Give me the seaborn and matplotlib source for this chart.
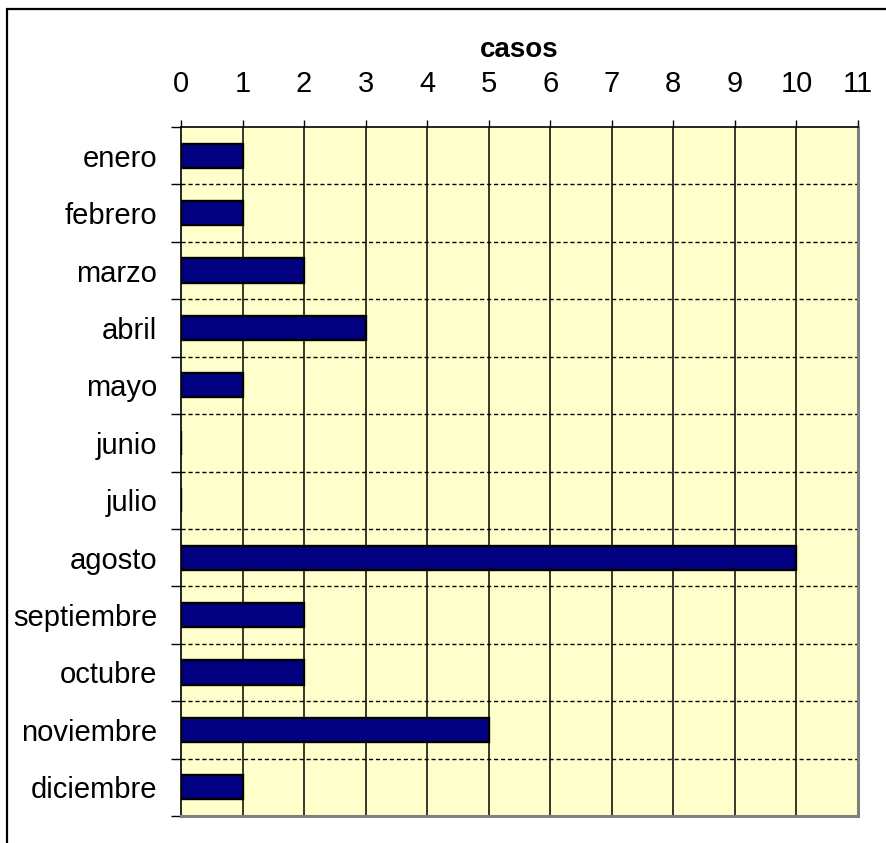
import matplotlib
matplotlib.use("Agg")
import matplotlib.pyplot as plt
import seaborn as sns
import pandas as pd
import numpy as np
from matplotlib.patches import Rectangle

meses = ["enero", "febrero", "marzo", "abril", "mayo", "junio", "julio",
         "agosto", "septiembre", "octubre", "noviembre", "diciembre"]
casos = [1, 1, 2, 3, 1, 0, 0, 10, 2, 2, 5, 1]
xticks = list(range(0, 12))

sns.set_theme(style="white")
plt.rcParams['font.family'] = ['Liberation Sans', 'DejaVu Sans']
plt.rcParams['text.color'] = 'black'
plt.rcParams['axes.labelcolor'] = 'black'
plt.rcParams['xtick.color'] = 'black'
plt.rcParams['ytick.color'] = 'black'

FS = 21

df = pd.DataFrame({"mes": meses, "casos": casos})

fig = plt.figure(figsize=(8.86, 8.43), dpi=100)
ax = fig.add_axes([181/886, 1-816/843, (858-181)/886, (816-127)/843])
ax.set_facecolor("#FFFFCC")

sns.barplot(data=df, x="casos", y="mes", orient="h", color="#000080",
            edgecolor="black", linewidth=1.7, width=0.42, saturation=1, ax=ax)

ax.set_xlim(0, 11)
ax.set_ylim(len(meses) - 0.5, -0.5)
ax.xaxis.tick_top()
ax.xaxis.set_label_position("top")
ax.set_xticks(xticks)
ax.set_xticklabels([str(t) for t in xticks], fontsize=FS, color="black")
ax.set_xlabel("casos", fontsize=FS - 1, fontweight="bold", labelpad=9, color="black")
ax.set_ylabel("")

# vertical grid lines
for t in xticks[1:-1]:
    ax.axvline(t, color="black", lw=1.1, zorder=0.5)
# dashed horizontal boundaries
bounds = np.arange(-0.5, len(meses) + 0.5, 1.0)
for b in bounds[1:-1]:
    ax.axhline(b, color="black", lw=1.0, ls=(0, (3, 2)), zorder=0.5)

ax.set_yticks(bounds, minor=True)
ax.tick_params(axis="y", which="minor", length=7.5, width=1.0, color="black", left=True)
ax.tick_params(axis="y", which="major", length=0, pad=17, labelsize=FS, labelcolor="black")
ax.tick_params(axis="x", which="major", length=5, width=1.0, color="black",
               top=True, bottom=False, pad=16, labelcolor="black")
for lab in ax.get_yticklabels():
    lab.set_fontsize(FS)
    lab.set_color("black")

for s in ["left", "top"]:
    ax.spines[s].set_color("black")
    ax.spines[s].set_linewidth(1.2)
for s in ["right", "bottom"]:
    ax.spines[s].set_color("#808080")
    ax.spines[s].set_linewidth(2.2)
    ax.spines[s].set_visible(True)

# figure border (extends past right and bottom edges)
fig.patches.append(Rectangle((7/886, -0.05), 1.2, 1 - 9/843 + 0.05,
                             transform=fig.transFigure, fill=False,
                             edgecolor="black", linewidth=1.6, zorder=10))

fig.savefig("out.png", dpi=100)
